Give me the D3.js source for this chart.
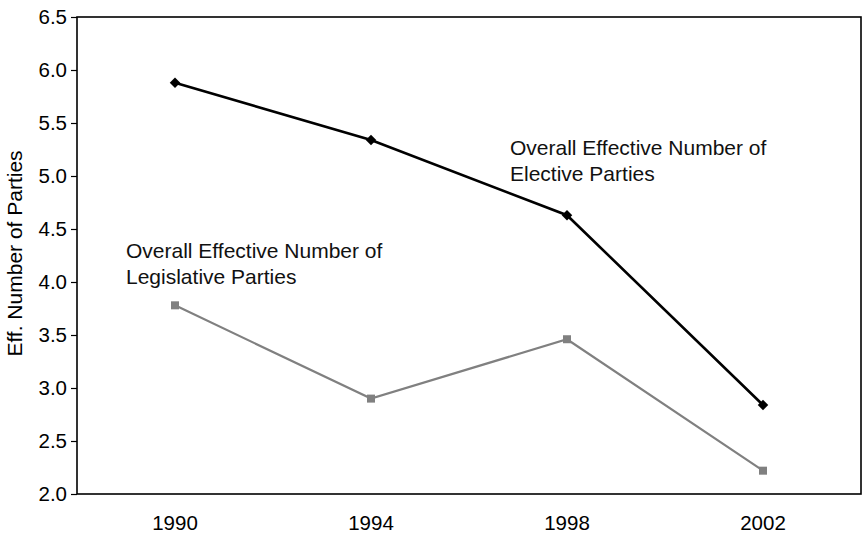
<!DOCTYPE html>
<html>
<head>
<meta charset="utf-8">
<script src="https://cdn.jsdelivr.net/npm/d3@7"></script>
<style>
  body { margin: 0; background: #fff; }
  svg { display: block; font-family: "Liberation Sans", Arial, sans-serif; }
</style>
</head>
<body>
<svg id="chart" width="862" height="533"></svg>
<script>
// years on the x axis
const years = ["1990", "1994", "1998", "2002"];
// overall effective number of elective parties
const elective = [5.88, 5.34, 4.63, 2.84];
// overall effective number of legislative parties
const legislative = [3.78, 2.90, 3.46, 2.22];
const yTicks = [2.0, 2.5, 3.0, 3.5, 4.0, 4.5, 5.0, 5.5, 6.0, 6.5];

const svg = d3.select("#chart");
const margin = { top: 17, right: 1, bottom: 39, left: 77 };
const width = 862 - margin.left - margin.right;
const height = 533 - margin.top - margin.bottom;

const g = svg.append("g")
    .attr("transform", "translate(" + margin.left + "," + margin.top + ")");

const x = d3.scaleBand().domain(years).range([0, width]);
const y = d3.scaleLinear().domain([2, 6.5]).range([height, 0]);
const cx = d => x(d) + x.bandwidth() / 2;

// y axis with outer ticks
const yAxis = g.append("g")
    .call(d3.axisLeft(y).tickValues(yTicks).tickFormat(d3.format(".1f")).tickSize(6).tickPadding(4));
yAxis.select(".domain").remove();
yAxis.selectAll("line").attr("stroke", "#000").attr("stroke-width", 1.2);
yAxis.selectAll("text").attr("font-size", 20.5).attr("fill", "#000")
    .attr("font-family", "Liberation Sans, Arial, sans-serif");

// x labels, no tick marks
const xAxis = g.append("g")
    .attr("transform", "translate(0," + height + ")")
    .call(d3.axisBottom(x).tickSize(0).tickPadding(21));
xAxis.select(".domain").remove();
xAxis.selectAll("text").attr("font-size", 20.5).attr("fill", "#000")
    .attr("font-family", "Liberation Sans, Arial, sans-serif");

// plot frame
g.append("rect")
    .attr("width", width).attr("height", height)
    .attr("fill", "none").attr("stroke", "#000").attr("stroke-width", 1.6);

// y axis title
svg.append("text")
    .attr("transform", "translate(22," + (margin.top + height / 2 - 2) + ") rotate(-90)")
    .attr("text-anchor", "middle")
    .attr("font-size", 21)
    .text("Eff. Number of Parties");

const line = d3.line().x((d, i) => cx(years[i])).y(d => y(d));

// legislative series (gray squares)
g.append("path").datum(legislative)
    .attr("d", line).attr("fill", "none")
    .attr("stroke", "#808080").attr("stroke-width", 2.2);
g.selectAll(".sq").data(legislative).enter().append("rect")
    .attr("x", (d, i) => cx(years[i]) - 4)
    .attr("y", d => y(d) - 4)
    .attr("width", 8).attr("height", 8)
    .attr("fill", "#808080");

// elective series (black diamonds)
g.append("path").datum(elective)
    .attr("d", line).attr("fill", "none")
    .attr("stroke", "#000").attr("stroke-width", 2.6);
g.selectAll(".dm").data(elective).enter().append("path")
    .attr("d", d3.symbol().type(d3.symbolDiamond2).size(70))
    .attr("transform", (d, i) => "translate(" + cx(years[i]) + "," + y(d) + ")")
    .attr("fill", "#000");

// annotations
const note = (xPos, yPos, lines) => {
    const t = g.append("text").attr("font-size", 21).attr("fill", "#111");
    lines.forEach((s, i) => {
        t.append("tspan").attr("x", xPos).attr("y", yPos + i * 26).text(s);
    });
};
note(cx("1998") - 57, y(5.2), ["Overall Effective Number of", "Elective Parties"]);
note(cx("1990") - 49, y(4.23), ["Overall Effective Number of", "Legislative Parties"]);
</script>
</body>
</html>
